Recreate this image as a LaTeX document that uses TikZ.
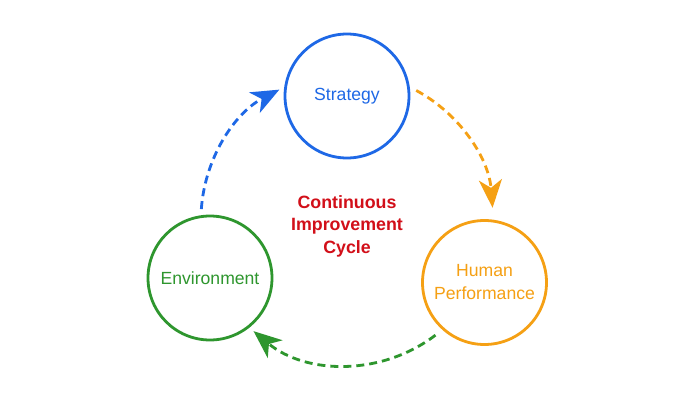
\documentclass[tikz,border=0pt]{standalone}
\usepackage{fontspec}
\setmainfont{Liberation Sans}
\usetikzlibrary{arrows.meta}
\definecolor{cblue}{RGB}{30,104,230}
\definecolor{corange}{RGB}{245,160,20}
\definecolor{cgreen}{RGB}{46,150,46}
\definecolor{cred}{RGB}{210,15,25}
\begin{document}
\begin{tikzpicture}[x=1pt,y=1pt,
  stage/.style={circle,draw=#1,text=#1,line width=2.8pt,minimum size=124pt,inner sep=0pt,align=center,font=\fontsize{17.6}{23}\selectfont},
  cyc/.style={draw=#1,line width=2.8pt,dash pattern=on 8pt off 5pt,-{Stealth[length=28pt,width=23pt,inset=8pt]}}]
\useasboundingbox (0,0) rectangle (698,400);
\fill[white] (0,0) rectangle (698,400);
\node[stage=cblue] (str) at (347,304) {Strategy};
\node[stage=cgreen] (env) at (210,122) {Environment};
\node[stage=corange] (hp) at (484.5,117.5) {Human\\Performance};
\node[text=cred,align=center,font=\bfseries\fontsize{17.8}{22.5}\selectfont] (title) at (347,174) {Continuous\\Improvement\\Cycle};
\coordinate (c) at (347,181);
\draw[cyc=cblue] (c) ++(176.1:146) arc[start angle=176.1,end angle=117.6,radius=146];
\draw[cyc=corange] (c) ++(61.7:146) arc[start angle=61.7,end angle=4.4,radius=146];
\draw[cyc=cgreen] (c) ++(-52.7:146) arc[start angle=-52.7,end angle=-129.8,radius=146];
\end{tikzpicture}
\end{document}
